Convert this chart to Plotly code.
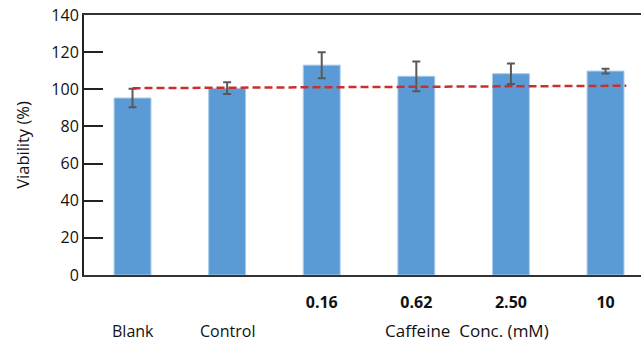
import plotly.graph_objects as go

categories = ["Blank", "Control", "0.16", "0.62", "2.50", "10"]
viability = [95.3, 100.6, 113.0, 107.0, 108.4, 109.8]
errors = [5.0, 3.2, 7.0, 8.0, 5.5, 1.3]
y_ticks = [0, 20, 40, 60, 80, 100, 120, 140]
trend_x = [0, 5.22]
trend_y = [100.6, 101.9]
group_labels = ["Blank", "Control"]
conc_title = "Caffeine  Conc. (mM)"

xpos = list(range(len(categories)))
font_family = "Open Sans, Liberation Sans, sans-serif"

fig = go.Figure()
fig.add_trace(go.Bar(
    x=xpos, y=viability, width=0.39,
    marker=dict(color="#5B9BD5", line=dict(color="#A9CBEA", width=1)),
    error_y=dict(type="data", array=errors, visible=True,
                 color="#595959", thickness=2, width=4),
    showlegend=False,
))
fig.add_trace(go.Scatter(
    x=trend_x, y=trend_y, mode="lines",
    line=dict(color="#C9302C", width=2.5, dash="8px,4px"),
    showlegend=False,
))

tick_idx = xpos[2:]
fig.update_xaxes(
    range=[-0.513, 5.375],
    tickvals=tick_idx,
    ticktext=["<b>%s</b>" % categories[i] for i in tick_idx],
    ticks="", showline=True, linecolor="#333333", linewidth=2,
    mirror=True, showgrid=False, zeroline=False, automargin=False,
    ticklabelstandoff=12,
    tickfont=dict(family=font_family, size=16, color="#111111"),
)
fig.update_yaxes(
    range=[0, 140], tickvals=y_ticks,
    ticks="inside", ticklen=19, tickwidth=2, tickcolor="#222222",
    showline=True, linecolor="#222222", linewidth=2,
    showgrid=False, zeroline=False, automargin=False,
    tickfont=dict(family=font_family, size=16, color="#111111"),
    title=dict(text="Viability (%)", standoff=18,
               font=dict(family=font_family, size=16.5, color="#111111")),
)

for i, lab in enumerate(group_labels):
    fig.add_annotation(x=xpos[i], y=-0.215, xref="x", yref="paper",
                       text=lab, showarrow=False, yanchor="middle",
                       font=dict(family=font_family, size=16, color="#111111"))
fig.add_annotation(x=3.54, y=-0.215, xref="x", yref="paper",
                   text=conc_title.replace("  ", "&nbsp; "), showarrow=False, yanchor="middle",
                   font=dict(family=font_family, size=17, color="#111111"))

fig.update_layout(
    width=641, height=343,
    margin=dict(l=84, r=0, t=15, b=68),
    plot_bgcolor="white", paper_bgcolor="white",
    bargap=0.6,
)
fig.write_html("out.html", config={"displayModeBar": False},
               post_script="document.body.style.margin='0';")
